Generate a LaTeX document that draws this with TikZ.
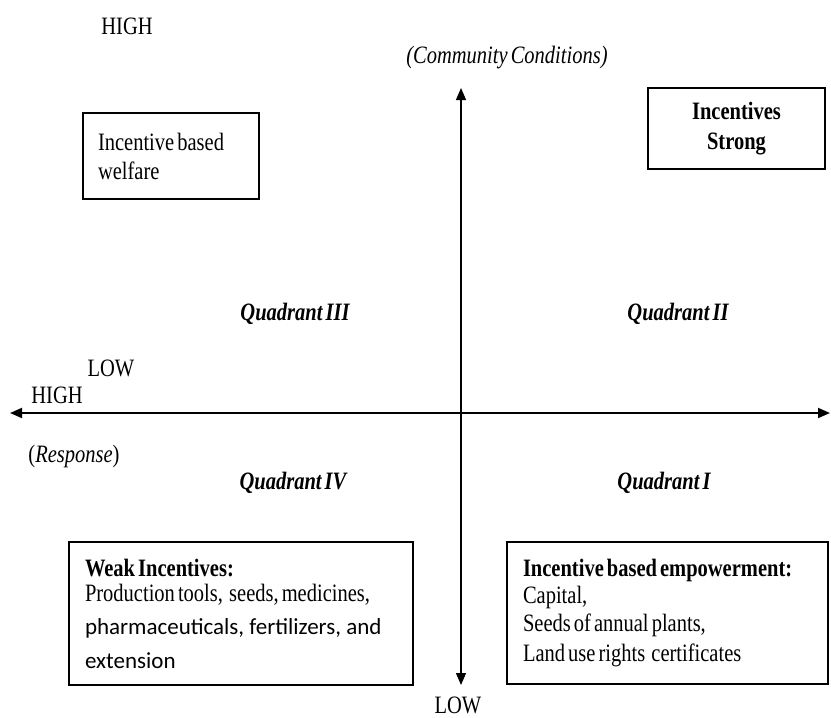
\documentclass[tikz,border=0pt]{standalone}
\usepackage{fontspec}
\setmainfont{Liberation Serif}[FakeStretch=0.82, WordSpace=0.6]
\newfontfamily\calib{Carlito}
\usetikzlibrary{arrows.meta}
\newcommand\myfs{\fontsize{25}{28}\selectfont}
\newcommand\mysf{\calib\fontsize{23}{28}\selectfont}
\newcommand\natsp{\spaceskip=0pt\relax\xspaceskip=0pt\relax}
\begin{document}
\begin{tikzpicture}[x=1pt,y=-1pt,
  every node/.style={font=\myfs, inner sep=0pt},
  lbl/.style={anchor=base},
  quad/.style={anchor=base, font=\myfs\bfseries\itshape},
  box/.style={draw, line width=1.3pt, align=left, inner ysep=0pt},
  axis/.style={{Triangle[length=12pt,width=10pt]}-{Triangle[length=12pt,width=10pt]}}
]
\useasboundingbox (0,0) rectangle (831,718);

% axes
\coordinate (vtop) at (461,88);
\coordinate (vbot) at (461,685);
\coordinate (hl) at (10,413);
\coordinate (hr) at (830,413);
\draw[axis, line width=1.2pt] (vbot) -- (vtop);
\draw[axis, line width=1.8pt] (hl) -- (hr);

% labels
\node[lbl] (hightop) at (127,34) {HIGH};
\node[lbl, font=\myfs\itshape] (comm) at (507,63) {(Community Conditions)};
\node[lbl] (lowleft) at (111,376) {LOW};
\node[lbl] (highleft) at (57,403) {HIGH};
\node[lbl] (resp) at (74,462) {(\textit{Response})};
\node[lbl] (lowbot) at (458,713) {LOW};

% quadrants
\node[quad] (q3) at (295,320) {Quadrant III};
\node[quad] (q2) at (678,320) {Quadrant II};
\node[quad] (q4) at (293,489) {Quadrant IV};
\node[quad] (q1) at (664,489) {Quadrant I};

% boxes
\node[box, inner xsep=15pt, text width=146pt, minimum height=86pt] (welfare) at (171,156)
  {\natsp Incentive based\\[1pt] welfare};
\node[box, align=center, inner xsep=10pt, text width=157pt, minimum height=81pt, font=\myfs\bfseries] (strong) at (736.5,128.5)
  {Incentives\\[2pt] Strong};
\node[box, inner xsep=16pt, text width=312pt, minimum height=143pt] (weak) at (241,613.5)
  {\natsp\textbf{Weak Incentives:}\\[-3pt]
   Production tools,\ \ seeds, medicines,\\[5pt]
   {\mysf pharmaceuticals, fertilizers, and}\\[6pt]
   {\mysf extension}};
\node[box, inner xsep=16pt, text width=289pt, minimum height=142pt] (emp) at (667.5,613)
  {\natsp\textbf{Incentive based empowerment:}\\[-1pt]
   Capital,\\
   Seeds of annual plants,\\[2pt]
   Land use rights\ \ certificates};
\end{tikzpicture}
\end{document}
